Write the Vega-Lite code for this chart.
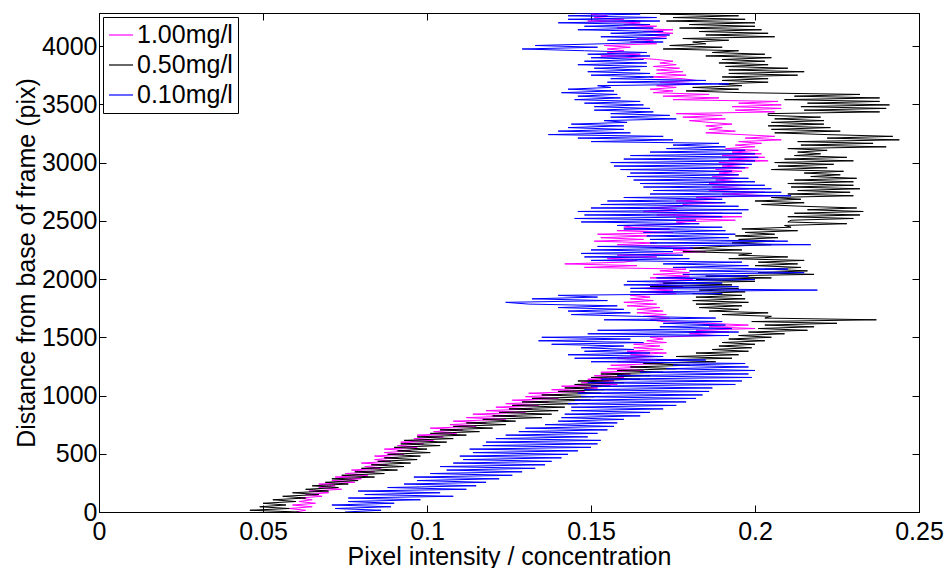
{
  "$schema": "https://vega.github.io/schema/vega-lite/v6.json",
  "width": 820,
  "height": 499,
  "autosize": {"type": "none"},
  "padding": {"left": 99, "top": 13, "right": 30, "bottom": 56},
  "background": "white",
  "config": {
    "font": "Liberation Sans",
    "view": {"stroke": "black", "strokeWidth": 1},
    "axis": {
      "domainColor": "black", "tickColor": "black", "labelColor": "black", "titleColor": "black",
      "labelFontSize": 25, "titleFontSize": 25, "titleFontWeight": "normal",
      "grid": false, "tickSize": -7, "labelFlush": false, "labelOverlap": false
    }
  },
  "data": {"values": [
    {"d":0,"a":0.060,"b":0.061,"c":0.075},{"d":15,"a":0.063,"b":0.046,"c":0.086},{"d":30,"a":0.058,"b":0.058,"c":0.072},{"d":45,"a":0.065,"b":0.049,"c":0.089},
    {"d":60,"a":0.059,"b":0.057,"c":0.071},{"d":75,"a":0.066,"b":0.050,"c":0.090},{"d":90,"a":0.061,"b":0.060,"c":0.076},{"d":105,"a":0.065,"b":0.053,"c":0.098},
    {"d":120,"a":0.061,"b":0.063,"c":0.076},{"d":135,"a":0.068,"b":0.056,"c":0.108},{"d":150,"a":0.063,"b":0.067,"c":0.081},{"d":165,"a":0.070,"b":0.059,"c":0.104},
    {"d":180,"a":0.064,"b":0.070,"c":0.079},{"d":195,"a":0.074,"b":0.063,"c":0.112},{"d":210,"a":0.067,"b":0.073,"c":0.088},{"d":225,"a":0.072,"b":0.065,"c":0.115},
    {"d":240,"a":0.067,"b":0.076,"c":0.093},{"d":255,"a":0.078,"b":0.069,"c":0.118},{"d":270,"a":0.071,"b":0.079,"c":0.097},{"d":285,"a":0.080,"b":0.071,"c":0.122},
    {"d":300,"a":0.072,"b":0.084,"c":0.096},{"d":315,"a":0.082,"b":0.074,"c":0.126},{"d":330,"a":0.075,"b":0.087,"c":0.101},{"d":345,"a":0.084,"b":0.078,"c":0.129},
    {"d":360,"a":0.077,"b":0.091,"c":0.106},{"d":375,"a":0.086,"b":0.080,"c":0.133},{"d":390,"a":0.081,"b":0.093,"c":0.104},{"d":405,"a":0.088,"b":0.083,"c":0.136},
    {"d":420,"a":0.080,"b":0.095,"c":0.108},{"d":435,"a":0.089,"b":0.085,"c":0.138},{"d":450,"a":0.084,"b":0.097,"c":0.111},{"d":465,"a":0.091,"b":0.087,"c":0.141},
    {"d":480,"a":0.084,"b":0.098,"c":0.110},{"d":495,"a":0.093,"b":0.088,"c":0.143},{"d":510,"a":0.087,"b":0.101,"c":0.114},{"d":525,"a":0.095,"b":0.091,"c":0.146},
    {"d":540,"a":0.087,"b":0.100,"c":0.113},{"d":555,"a":0.097,"b":0.090,"c":0.150},{"d":570,"a":0.091,"b":0.104,"c":0.117},{"d":585,"a":0.099,"b":0.092,"c":0.152},
    {"d":600,"a":0.092,"b":0.106,"c":0.118},{"d":615,"a":0.102,"b":0.093,"c":0.153},{"d":630,"a":0.096,"b":0.108,"c":0.121},{"d":645,"a":0.105,"b":0.097,"c":0.149},
    {"d":660,"a":0.097,"b":0.112,"c":0.124},{"d":675,"a":0.109,"b":0.101,"c":0.152},{"d":690,"a":0.102,"b":0.116,"c":0.128},{"d":705,"a":0.111,"b":0.104,"c":0.155},
    {"d":720,"a":0.101,"b":0.120,"c":0.130},{"d":735,"a":0.115,"b":0.108,"c":0.157},{"d":750,"a":0.107,"b":0.124,"c":0.136},{"d":765,"a":0.118,"b":0.112,"c":0.158},
    {"d":780,"a":0.108,"b":0.127,"c":0.140},{"d":795,"a":0.124,"b":0.117,"c":0.160},{"d":810,"a":0.112,"b":0.135,"c":0.141},{"d":825,"a":0.127,"b":0.120,"c":0.165},
    {"d":840,"a":0.114,"b":0.138,"c":0.142},{"d":855,"a":0.130,"b":0.122,"c":0.168},{"d":870,"a":0.118,"b":0.140,"c":0.144},{"d":885,"a":0.132,"b":0.125,"c":0.172},
    {"d":900,"a":0.121,"b":0.142,"c":0.144},{"d":915,"a":0.134,"b":0.126,"c":0.176},{"d":930,"a":0.124,"b":0.146,"c":0.143},{"d":945,"a":0.137,"b":0.129,"c":0.179},
    {"d":960,"a":0.126,"b":0.150,"c":0.145},{"d":975,"a":0.140,"b":0.132,"c":0.182},{"d":990,"a":0.130,"b":0.151,"c":0.147},{"d":1005,"a":0.141,"b":0.135,"c":0.184},
    {"d":1020,"a":0.131,"b":0.153,"c":0.146},{"d":1035,"a":0.148,"b":0.140,"c":0.186},{"d":1050,"a":0.138,"b":0.154,"c":0.148},{"d":1065,"a":0.152,"b":0.142,"c":0.187},
    {"d":1080,"a":0.141,"b":0.156,"c":0.150},{"d":1095,"a":0.158,"b":0.145,"c":0.194},{"d":1110,"a":0.147,"b":0.160,"c":0.149},{"d":1125,"a":0.157,"b":0.146,"c":0.196},
    {"d":1140,"a":0.149,"b":0.165,"c":0.153},{"d":1155,"a":0.160,"b":0.150,"c":0.199},{"d":1170,"a":0.151,"b":0.168,"c":0.158},{"d":1185,"a":0.162,"b":0.153,"c":0.198},
    {"d":1200,"a":0.153,"b":0.172,"c":0.165},{"d":1215,"a":0.166,"b":0.158,"c":0.200},{"d":1230,"a":0.155,"b":0.176,"c":0.173},{"d":1245,"a":0.167,"b":0.162,"c":0.198},
    {"d":1260,"a":0.156,"b":0.180,"c":0.175},{"d":1275,"a":0.172,"b":0.166,"c":0.197},{"d":1290,"a":0.158,"b":0.188,"c":0.150},{"d":1305,"a":0.170,"b":0.170,"c":0.185},
    {"d":1320,"a":0.158,"b":0.193,"c":0.145},{"d":1335,"a":0.170,"b":0.176,"c":0.172},{"d":1350,"a":0.162,"b":0.195,"c":0.143},{"d":1365,"a":0.173,"b":0.182,"c":0.168},
    {"d":1380,"a":0.161,"b":0.198,"c":0.148},{"d":1395,"a":0.172,"b":0.187,"c":0.163},{"d":1410,"a":0.163,"b":0.199,"c":0.147},{"d":1425,"a":0.171,"b":0.189,"c":0.160},
    {"d":1440,"a":0.163,"b":0.200,"c":0.138},{"d":1455,"a":0.173,"b":0.190,"c":0.166},{"d":1470,"a":0.167,"b":0.203,"c":0.134},{"d":1485,"a":0.172,"b":0.192,"c":0.162},
    {"d":1500,"a":0.168,"b":0.205,"c":0.135},{"d":1515,"a":0.188,"b":0.195,"c":0.192},{"d":1530,"a":0.180,"b":0.209,"c":0.149},{"d":1545,"a":0.192,"b":0.198,"c":0.195},
    {"d":1560,"a":0.182,"b":0.216,"c":0.152},{"d":1575,"a":0.200,"b":0.201,"c":0.193},{"d":1590,"a":0.186,"b":0.218,"c":0.171},{"d":1605,"a":0.198,"b":0.203,"c":0.191},
    {"d":1620,"a":0.186,"b":0.225,"c":0.172},{"d":1635,"a":0.172,"b":0.199,"c":0.190},{"d":1650,"a":0.168,"b":0.237,"c":0.154},{"d":1665,"a":0.174,"b":0.203,"c":0.188},
    {"d":1680,"a":0.166,"b":0.205,"c":0.164},{"d":1695,"a":0.173,"b":0.190,"c":0.144},{"d":1710,"a":0.164,"b":0.204,"c":0.162},{"d":1725,"a":0.172,"b":0.186,"c":0.143},
    {"d":1740,"a":0.164,"b":0.195,"c":0.160},{"d":1755,"a":0.171,"b":0.183,"c":0.140},{"d":1770,"a":0.161,"b":0.196,"c":0.158},{"d":1785,"a":0.170,"b":0.182,"c":0.131},
    {"d":1800,"a":0.160,"b":0.198,"c":0.124},{"d":1815,"a":0.169,"b":0.181,"c":0.155},{"d":1830,"a":0.162,"b":0.197,"c":0.132},{"d":1845,"a":0.168,"b":0.182,"c":0.152},
    {"d":1860,"a":0.162,"b":0.196,"c":0.140},{"d":1875,"a":0.176,"b":0.181,"c":0.190},{"d":1890,"a":0.165,"b":0.197,"c":0.162},{"d":1905,"a":0.175,"b":0.183,"c":0.219},
    {"d":1920,"a":0.165,"b":0.195,"c":0.162},{"d":1935,"a":0.178,"b":0.168,"c":0.195},{"d":1950,"a":0.167,"b":0.193,"c":0.160},{"d":1965,"a":0.177,"b":0.172,"c":0.190},
    {"d":1980,"a":0.170,"b":0.200,"c":0.161},{"d":1995,"a":0.181,"b":0.182,"c":0.200},{"d":2010,"a":0.168,"b":0.205,"c":0.170},{"d":2025,"a":0.180,"b":0.185,"c":0.198},
    {"d":2040,"a":0.169,"b":0.218,"c":0.178},{"d":2055,"a":0.180,"b":0.201,"c":0.215},{"d":2070,"a":0.171,"b":0.216,"c":0.180},{"d":2085,"a":0.179,"b":0.203,"c":0.210},
    {"d":2100,"a":0.148,"b":0.214,"c":0.175},{"d":2115,"a":0.164,"b":0.200,"c":0.198},{"d":2130,"a":0.142,"b":0.213,"c":0.172},{"d":2145,"a":0.160,"b":0.201,"c":0.196},
    {"d":2160,"a":0.164,"b":0.215,"c":0.150},{"d":2175,"a":0.155,"b":0.192,"c":0.180},{"d":2190,"a":0.170,"b":0.210,"c":0.148},{"d":2205,"a":0.158,"b":0.195,"c":0.178},
    {"d":2220,"a":0.174,"b":0.199,"c":0.147},{"d":2235,"a":0.185,"b":0.178,"c":0.175},{"d":2250,"a":0.175,"b":0.196,"c":0.150},{"d":2265,"a":0.183,"b":0.180,"c":0.181},
    {"d":2280,"a":0.173,"b":0.190,"c":0.152},{"d":2295,"a":0.158,"b":0.205,"c":0.217},{"d":2310,"a":0.170,"b":0.193,"c":0.168},{"d":2325,"a":0.151,"b":0.206,"c":0.210},
    {"d":2340,"a":0.166,"b":0.195,"c":0.168},{"d":2355,"a":0.153,"b":0.207,"c":0.192},{"d":2370,"a":0.168,"b":0.194,"c":0.167},{"d":2385,"a":0.152,"b":0.206,"c":0.194},
    {"d":2400,"a":0.175,"b":0.197,"c":0.166},{"d":2415,"a":0.158,"b":0.213,"c":0.191},{"d":2430,"a":0.174,"b":0.196,"c":0.160},{"d":2445,"a":0.160,"b":0.211,"c":0.190},
    {"d":2460,"a":0.163,"b":0.209,"c":0.158},{"d":2475,"a":0.180,"b":0.228,"c":0.183},{"d":2490,"a":0.176,"b":0.210,"c":0.147},{"d":2505,"a":0.194,"b":0.211,"c":0.182},
    {"d":2520,"a":0.176,"b":0.230,"c":0.145},{"d":2535,"a":0.196,"b":0.210,"c":0.190},{"d":2550,"a":0.170,"b":0.232,"c":0.148},{"d":2565,"a":0.190,"b":0.212,"c":0.196},
    {"d":2580,"a":0.166,"b":0.233,"c":0.146},{"d":2595,"a":0.176,"b":0.216,"c":0.198},{"d":2610,"a":0.168,"b":0.231,"c":0.150},{"d":2625,"a":0.178,"b":0.214,"c":0.195},
    {"d":2640,"a":0.178,"b":0.202,"c":0.153},{"d":2655,"a":0.190,"b":0.215,"c":0.191},{"d":2670,"a":0.176,"b":0.200,"c":0.155},{"d":2685,"a":0.188,"b":0.214,"c":0.190},
    {"d":2700,"a":0.182,"b":0.205,"c":0.160},{"d":2715,"a":0.205,"b":0.230,"c":0.211},{"d":2730,"a":0.190,"b":0.210,"c":0.168},{"d":2745,"a":0.203,"b":0.229,"c":0.208},
    {"d":2760,"a":0.186,"b":0.213,"c":0.169},{"d":2775,"a":0.198,"b":0.232,"c":0.205},{"d":2790,"a":0.187,"b":0.211,"c":0.166},{"d":2805,"a":0.197,"b":0.230,"c":0.203},
    {"d":2820,"a":0.186,"b":0.210,"c":0.165},{"d":2835,"a":0.196,"b":0.230,"c":0.200},{"d":2850,"a":0.188,"b":0.212,"c":0.163},{"d":2865,"a":0.195,"b":0.231,"c":0.198},
    {"d":2880,"a":0.187,"b":0.217,"c":0.161},{"d":2895,"a":0.195,"b":0.226,"c":0.195},{"d":2910,"a":0.189,"b":0.215,"c":0.162},{"d":2925,"a":0.196,"b":0.227,"c":0.193},
    {"d":2940,"a":0.188,"b":0.205,"c":0.159},{"d":2955,"a":0.198,"b":0.222,"c":0.197},{"d":2970,"a":0.190,"b":0.207,"c":0.157},{"d":2985,"a":0.197,"b":0.224,"c":0.199},
    {"d":3000,"a":0.189,"b":0.206,"c":0.156},{"d":3015,"a":0.204,"b":0.230,"c":0.200},{"d":3030,"a":0.192,"b":0.209,"c":0.160},{"d":3045,"a":0.203,"b":0.228,"c":0.201},
    {"d":3060,"a":0.190,"b":0.212,"c":0.162},{"d":3075,"a":0.202,"b":0.220,"c":0.200},{"d":3090,"a":0.193,"b":0.213,"c":0.168},{"d":3105,"a":0.201,"b":0.222,"c":0.197},
    {"d":3120,"a":0.191,"b":0.210,"c":0.173},{"d":3135,"a":0.200,"b":0.240,"c":0.191},{"d":3150,"a":0.194,"b":0.214,"c":0.175},{"d":3165,"a":0.202,"b":0.236,"c":0.189},
    {"d":3180,"a":0.195,"b":0.213,"c":0.150},{"d":3195,"a":0.208,"b":0.244,"c":0.175},{"d":3210,"a":0.197,"b":0.222,"c":0.146},{"d":3225,"a":0.206,"b":0.242,"c":0.172},
    {"d":3240,"a":0.196,"b":0.222,"c":0.137},{"d":3255,"a":0.185,"b":0.206,"c":0.162},{"d":3270,"a":0.194,"b":0.226,"c":0.140},{"d":3285,"a":0.186,"b":0.205,"c":0.160},
    {"d":3300,"a":0.190,"b":0.223,"c":0.143},{"d":3315,"a":0.185,"b":0.204,"c":0.160},{"d":3330,"a":0.193,"b":0.221,"c":0.144},{"d":3345,"a":0.186,"b":0.205,"c":0.161},
    {"d":3360,"a":0.180,"b":0.221,"c":0.154},{"d":3375,"a":0.191,"b":0.206,"c":0.176},{"d":3390,"a":0.178,"b":0.220,"c":0.156},{"d":3405,"a":0.190,"b":0.204,"c":0.174},
    {"d":3420,"a":0.176,"b":0.204,"c":0.156},{"d":3435,"a":0.206,"b":0.238,"c":0.169},{"d":3450,"a":0.194,"b":0.215,"c":0.151},{"d":3465,"a":0.208,"b":0.240,"c":0.168},
    {"d":3480,"a":0.193,"b":0.214,"c":0.151},{"d":3495,"a":0.208,"b":0.241,"c":0.166},{"d":3510,"a":0.195,"b":0.216,"c":0.148},{"d":3525,"a":0.207,"b":0.238,"c":0.165},
    {"d":3540,"a":0.175,"b":0.209,"c":0.145},{"d":3555,"a":0.189,"b":0.238,"c":0.159},{"d":3570,"a":0.172,"b":0.212,"c":0.146},{"d":3585,"a":0.186,"b":0.232,"c":0.158},
    {"d":3600,"a":0.169,"b":0.196,"c":0.141},{"d":3615,"a":0.175,"b":0.179,"c":0.157},{"d":3630,"a":0.168,"b":0.195,"c":0.143},{"d":3645,"a":0.176,"b":0.181,"c":0.156},
    {"d":3660,"a":0.170,"b":0.196,"c":0.152},{"d":3675,"a":0.183,"b":0.189,"c":0.192},{"d":3690,"a":0.171,"b":0.204,"c":0.155},{"d":3705,"a":0.182,"b":0.190,"c":0.185},
    {"d":3720,"a":0.178,"b":0.204,"c":0.156},{"d":3735,"a":0.168,"b":0.190,"c":0.169},{"d":3750,"a":0.179,"b":0.213,"c":0.150},{"d":3765,"a":0.170,"b":0.192,"c":0.168},
    {"d":3780,"a":0.178,"b":0.215,"c":0.149},{"d":3795,"a":0.170,"b":0.192,"c":0.165},{"d":3810,"a":0.177,"b":0.210,"c":0.151},{"d":3825,"a":0.169,"b":0.191,"c":0.167},
    {"d":3840,"a":0.176,"b":0.204,"c":0.146},{"d":3855,"a":0.171,"b":0.189,"c":0.167},{"d":3870,"a":0.175,"b":0.203,"c":0.148},{"d":3885,"a":0.170,"b":0.190,"c":0.166},
    {"d":3900,"a":0.163,"b":0.205,"c":0.150},{"d":3915,"a":0.153,"b":0.185,"c":0.168},{"d":3930,"a":0.165,"b":0.203,"c":0.149},{"d":3945,"a":0.155,"b":0.187,"c":0.167},
    {"d":3960,"a":0.160,"b":0.195,"c":0.148},{"d":3975,"a":0.155,"b":0.172,"c":0.129},{"d":3990,"a":0.162,"b":0.190,"c":0.152},{"d":4005,"a":0.154,"b":0.174,"c":0.133},
    {"d":4020,"a":0.170,"b":0.185,"c":0.154},{"d":4035,"a":0.162,"b":0.181,"c":0.172},{"d":4050,"a":0.169,"b":0.192,"c":0.155},{"d":4065,"a":0.164,"b":0.178,"c":0.173},
    {"d":4080,"a":0.173,"b":0.206,"c":0.153},{"d":4095,"a":0.168,"b":0.185,"c":0.174},{"d":4110,"a":0.175,"b":0.204,"c":0.156},{"d":4125,"a":0.166,"b":0.183,"c":0.172},
    {"d":4140,"a":0.175,"b":0.202,"c":0.146},{"d":4155,"a":0.158,"b":0.177,"c":0.169},{"d":4170,"a":0.170,"b":0.200,"c":0.148},{"d":4185,"a":0.160,"b":0.180,"c":0.168},
    {"d":4200,"a":0.165,"b":0.200,"c":0.140},{"d":4215,"a":0.149,"b":0.173,"c":0.171},{"d":4230,"a":0.160,"b":0.197,"c":0.143},{"d":4245,"a":0.151,"b":0.175,"c":0.170},
    {"d":4260,"a":0.155,"b":0.195,"c":0.143},{"d":4275,"a":0.150,"b":0.171,"c":0.165},{"d":4284,"a":0.154,"b":0.190,"c":0.145}
  ]},
  "transform": [{"fold": ["a", "b", "c"], "as": ["series", "value"]}],
  "layer": [
    {
      "mark": {"type": "line", "strokeWidth": 1, "clip": true},
      "encoding": {
        "x": {"field": "value", "type": "quantitative",
              "scale": {"domain": [0, 0.25], "nice": false, "zero": false},
              "axis": {"orient": "bottom", "values": [0, 0.05, 0.1, 0.15, 0.2, 0.25], "format": "~g",
                       "title": "Pixel intensity / concentration", "labelPadding": 14, "titlePadding": 0}},
        "y": {"field": "d", "type": "quantitative",
              "scale": {"domain": [0, 4284], "nice": false, "zero": false},
              "axis": {"orient": "left", "values": [0, 500, 1000, 1500, 2000, 2500, 3000, 3500, 4000], "format": "d",
                       "title": "Distance from base of frame (pix)", "labelPadding": 9, "titlePadding": 2}},
        "color": {"field": "series", "type": "nominal",
                  "scale": {"domain": ["a", "b", "c"], "range": ["#ff00ff", "#000000", "#0000ff"]},
                  "legend": {"orient": "top-left", "offset": 4, "title": null,
                             "labelExpr": "datum.label == 'a' ? '1.00mg/l' : datum.label == 'b' ? '0.50mg/l' : '0.10mg/l'",
                             "labelFontSize": 25, "labelColor": "black", "labelFont": "Liberation Sans",
                             "symbolType": "stroke", "symbolSize": 576, "symbolStrokeWidth": 1.2,
                             "strokeColor": "black", "fillColor": "white", "padding": 5,
                             "rowPadding": 4, "labelOffset": 3, "labelLimit": 300}},
        "order": {"field": "d", "type": "quantitative"}
      }
    },
    {
      "mark": {"type": "point", "opacity": 0},
      "encoding": {
        "x": {"field": "value", "type": "quantitative",
              "scale": {"domain": [0, 0.25], "nice": false, "zero": false},
              "axis": {"orient": "top", "values": [0, 0.05, 0.1, 0.15, 0.2, 0.25], "labels": false, "title": null}},
        "y": {"field": "d", "type": "quantitative",
              "scale": {"domain": [0, 4284], "nice": false, "zero": false},
              "axis": {"orient": "right", "values": [0, 500, 1000, 1500, 2000, 2500, 3000, 3500, 4000], "labels": false, "title": null}}
      }
    }
  ],
  "resolve": {"axis": {"x": "independent", "y": "independent"}}
}
